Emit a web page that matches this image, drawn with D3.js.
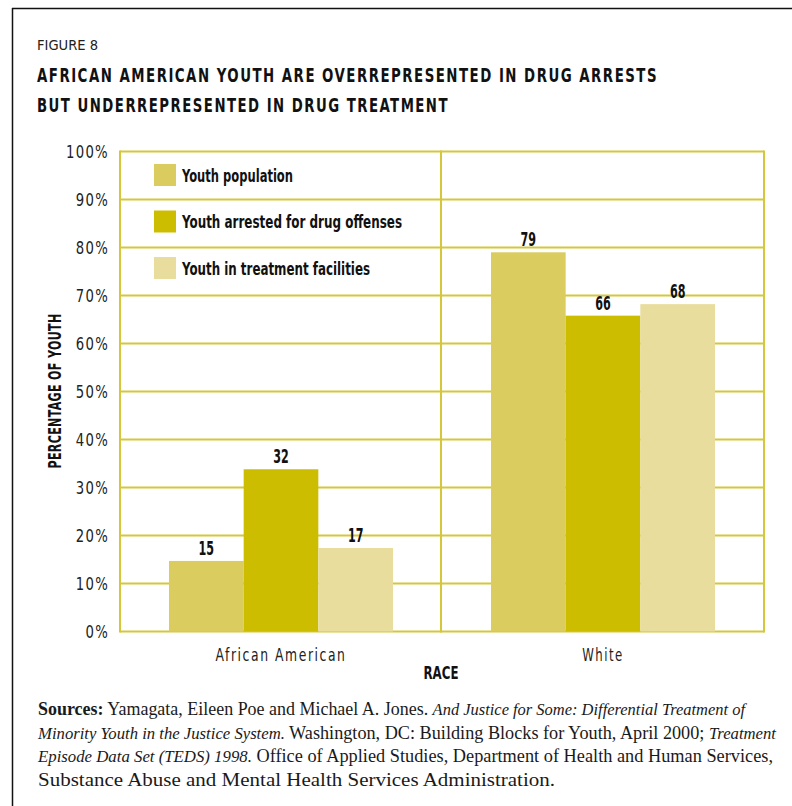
<!DOCTYPE html>
<html>
<head>
<meta charset="utf-8">
<script src="https://cdn.jsdelivr.net/npm/d3@7"></script>
<style>
  html, body { margin: 0; padding: 0; background: #fff; }
  svg { display: block; }
  .cond { font-family: "DejaVu Sans", "Liberation Sans", sans-serif; font-stretch: condensed; }
  .serif { font-family: "Liberation Serif", "DejaVu Serif", serif; }
</style>
</head>
<body>
<svg id="chart" width="792" height="806"></svg>
<script>
// ---- data ----
const categories = ["African American", "White"];
const seriesNames = ["Youth population", "Youth arrested for drug offenses", "Youth in treatment facilities"];
const seriesColors = ["#dbcc5f", "#cdbd00", "#e8dd9c"];
const barValuesAfricanAmerican = [14.7, 33.8, 17.4];
const barValuesWhite = [79.0, 65.8, 68.2];
const labelsAfricanAmerican = ["15", "32", "17"];
const labelsWhite = ["79", "66", "68"];
const yTicks = [0, 10, 20, 30, 40, 50, 60, 70, 80, 90, 100];

const rows = [
  { cat: categories[0], values: barValuesAfricanAmerican, labels: labelsAfricanAmerican },
  { cat: categories[1], values: barValuesWhite, labels: labelsWhite }
];

const svg = d3.select("#chart");
const W = 792, H = 806;
const plot = { left: 120, right: 764, top: 151.5, bottom: 631.5 };
const gridColor = "#d6c73a";

// squeeze a text horizontally to a target width (condensed look)
function fit(sel, w) {
  sel.attr("textLength", w).attr("lengthAdjust", "spacingAndGlyphs");
}
// scale a group of texts by the same ratio, taken from a reference text
function fitRatio(sel, ratio) {
  sel.each(function () {
    const len = this.getComputedTextLength();
    d3.select(this).attr("textLength", len * ratio).attr("lengthAdjust", "spacingAndGlyphs");
  });
}

// outer frame
svg.append("line").attr("x1", 12).attr("x2", W).attr("y1", 8.5).attr("y2", 8.5)
  .attr("stroke", "#111").attr("stroke-width", 1.5);
svg.append("line").attr("x1", 12.5).attr("x2", 12.5).attr("y1", 8).attr("y2", H)
  .attr("stroke", "#111").attr("stroke-width", 1.5);

// header
svg.append("text").attr("class", "cond").attr("x", 37).attr("y", 50)
  .attr("font-size", 13.5).attr("fill", "#222")
  .text("FIGURE 8").call(fit, 61);
svg.append("text").attr("class", "cond").attr("x", 37).attr("y", 82)
  .attr("font-size", 20).attr("font-weight", "bold").attr("letter-spacing", 2).attr("fill", "#111")
  .text("AFRICAN AMERICAN YOUTH ARE OVERREPRESENTED IN DRUG ARRESTS").call(fit, 621);
svg.append("text").attr("class", "cond").attr("x", 37).attr("y", 112)
  .attr("font-size", 20).attr("font-weight", "bold").attr("letter-spacing", 2).attr("fill", "#111")
  .text("BUT UNDERREPRESENTED IN DRUG TREATMENT").call(fit, 412);

// scales
const x0 = d3.scaleBand().domain(categories).range([plot.left, plot.right]).padding(0);
const groupW = 224;
const x1 = d3.scaleBand().domain(seriesNames)
  .range([(x0.bandwidth() - groupW) / 2, (x0.bandwidth() + groupW) / 2]).padding(0);
const y = d3.scaleLinear().domain([0, 100]).range([plot.bottom, plot.top]);
const color = d3.scaleOrdinal().domain(seriesNames).range(seriesColors);

// gridlines
svg.append("g").selectAll("line").data(yTicks).join("line")
  .attr("x1", plot.left).attr("x2", plot.right)
  .attr("y1", d => y(d)).attr("y2", d => y(d))
  .attr("stroke", gridColor).attr("stroke-width", 2);
// verticals: left, divider, right
svg.append("g").selectAll("line").data([plot.left, x0(categories[1]) - 1, plot.right]).join("line")
  .attr("x1", d => d).attr("x2", d => d).attr("y1", plot.top - 1).attr("y2", plot.bottom + 1)
  .attr("stroke", gridColor).attr("stroke-width", 2);

// y axis tick labels
const yAxis = d3.axisLeft(y).tickValues(yTicks).tickSize(0).tickPadding(0).tickFormat(d => d + "%");
const gy = svg.append("g").attr("transform", `translate(109,0)`).call(yAxis);
gy.select(".domain").remove();
const yTexts = gy.selectAll("text").attr("class", "cond").attr("font-size", 17).attr("fill", "#222")
  .attr("font-family", null).attr("letter-spacing", 1.5).attr("dy", "0.36em");
{
  const ref = yTexts.filter(d => d === 100).node().getComputedTextLength();
  fitRatio(yTexts, 43 / ref);
}

// bars
const barData = d => d.values.map((v, i) => ({ s: seriesNames[i], v, label: d.labels[i] }));
const groups = svg.append("g").selectAll("g").data(rows).join("g")
  .attr("transform", d => `translate(${x0(d.cat)},0)`);
groups.selectAll("rect").data(barData)
  .join("rect")
  .attr("x", d => x1(d.s)).attr("width", x1.bandwidth())
  .attr("y", d => y(d.v)).attr("height", d => y(0) - y(d.v))
  .attr("fill", d => color(d.s));
const valTexts = groups.selectAll("text.val").data(barData)
  .join("text").attr("class", "val cond")
  .attr("x", d => x1(d.s) + x1.bandwidth() / 2).attr("y", d => y(d.v) - 6)
  .attr("text-anchor", "middle").attr("font-size", 19).attr("font-weight", "bold").attr("fill", "#111")
  .text(d => d.label);
{
  const ref = valTexts.filter(d => d.label === "15").node().getComputedTextLength();
  fitRatio(valTexts, 15.5 / ref);
}

// x axis labels
const xAxis = d3.axisBottom(x0).tickSize(0).tickPadding(0);
const gx = svg.append("g").attr("transform", `translate(0,${plot.bottom})`).call(xAxis);
gx.select(".domain").remove();
const xTexts = gx.selectAll("text").attr("class", "cond").attr("font-size", 17.5).attr("fill", "#222")
  .attr("font-family", null).attr("letter-spacing", 2).attr("dy", 0).attr("y", 29);
xTexts.filter(d => d === "African American").call(fit, 131);
xTexts.filter(d => d === "White").call(fit, 41.5);

// axis titles
svg.append("text").attr("class", "cond").attr("x", 441).attr("y", 679).attr("text-anchor", "middle")
  .attr("font-size", 17).attr("font-weight", "bold").attr("fill", "#111").text("RACE").call(fit, 35);
svg.append("text").attr("class", "cond")
  .attr("transform", "translate(61,391) rotate(-90)").attr("text-anchor", "middle")
  .attr("font-size", 18).attr("font-weight", "bold").attr("letter-spacing", 0.5).attr("fill", "#111")
  .text("PERCENTAGE OF YOUTH").call(fit, 155);

// legend
const legendWidths = [111, 220, 188];
const legend = svg.append("g").selectAll("g").data(seriesNames).join("g")
  .attr("transform", (d, i) => `translate(154,${164 + i * 46.5})`);
legend.append("rect").attr("width", 22).attr("height", 22).attr("fill", d => color(d));
legend.append("text").attr("class", "cond").attr("x", 28).attr("y", 17.5)
  .attr("font-size", 18.5).attr("font-weight", "bold").attr("fill", "#111").text(d => d)
  .each(function (d, i) { d3.select(this).call(fit, legendWidths[i]); });

// sources
const srcLines = [
  [["Sources:", "b"], [" Yamagata, Eileen Poe and Michael A. Jones. ", ""], ["And Justice for Some: Differential Treatment of", "i"]],
  [["Minority Youth in the Justice System.", "i"], [" Washington, DC: Building Blocks for Youth, April 2000; ", ""], ["Treatment", "i"]],
  [["Episode Data Set (TEDS) 1998.", "i"], [" Office of Applied Studies, Department of Health and Human Services,", ""]],
  [["Substance Abuse and Mental Health Services Administration.", ""]]
];
const srcWidths = [707, 738, 735, 517];
const src = svg.append("g").attr("class", "serif");
srcLines.forEach((line, li) => {
  const t = src.append("text").attr("x", 38).attr("y", 715 + li * 23.6)
    .attr("font-size", 18).attr("fill", "#1a1a1a");
  line.forEach(([s, st]) => {
    const ts = t.append("tspan").text(s);
    if (st === "b") ts.attr("font-weight", "bold");
    if (st === "i") ts.attr("font-style", "italic").attr("font-size", 16.5);
  });
  t.call(fit, srcWidths[li]);
});
</script>
</body>
</html>
